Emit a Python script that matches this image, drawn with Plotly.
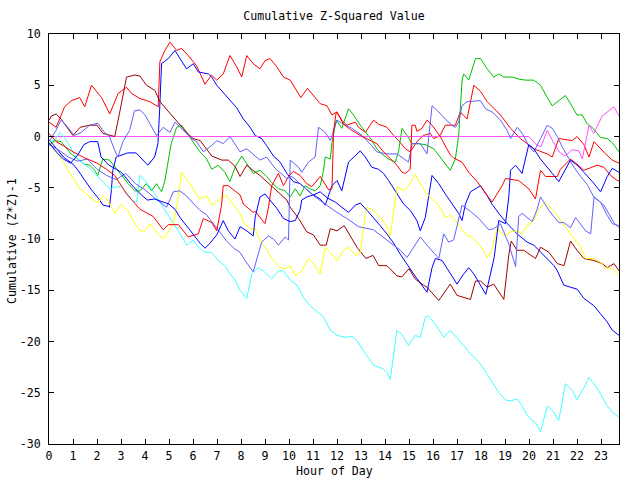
import plotly.graph_objects as go

# ---- data: (hour, cumulative value) vertices ----
RED_A = [(0,1.4),(0.3,0.9),(0.65,2.9),(0.93,3.5),(1.28,3.8),(1.49,2.9),(1.77,5.0),(2.19,3.8),(2.53,2.2),(2.88,4.2),
         (3.23,4.8),(3.44,4.2),(3.79,3.7),(4.2,3.4),(4.55,2.9),(4.62,7.3),(4.83,8.4),(5.04,9.2),(5.32,8.4),(5.52,8.6),
         (5.8,7.9),(6.15,6.9),(6.5,5.1),(6.77,6.0),(6.99,5.5),(7.26,6.1),(7.54,7.9),(7.82,6.8),(8.03,5.8),(8.24,7.9),
         (8.51,7.1),(8.79,6.6),(9.0,7.4),(9.21,7.6),(9.49,6.8),(9.77,5.8),(10.05,5.5),(10.25,4.7),(10.49,3.8),(10.77,4.7),
         (11.09,3.8),(11.3,3.2),(11.58,3.0),(11.79,2.1),(12.0,2.4),(12.2,1.6),(12.41,1.1),(12.55,1.2),(12.76,1.4),(12.9,0.9),
         (13.18,0.4),(13.38,1.1),(13.52,1.6),(13.73,1.2),(14.08,0.9),(14.36,0.1),(14.57,-0.4),(14.85,-1.2),(15.05,-1.5),
         (15.33,-0.5),(15.6,0.1),(15.89,0.3),(16.03,-0.2),(16.3,0.1),(16.51,1.1),(16.93,1.1),(17.14,2.4),(17.42,1.7),
         (17.7,5.0),(17.98,4.4),(18.26,3.4),(18.81,2.1),(19.23,0.8),(19.64,-0.2),(20.2,-1.2),(20.76,-1.7),(20.97,-2.0),
         (21.24,-0.2),(21.8,-0.4),(22.0,0.0),(22.29,-0.8),(22.5,-2.0),(22.71,-0.5),(23.19,-1.7),(23.47,-2.3),(23.75,-2.6)]

RED_C = [(0,0.3),(0.3,-0.5),(0.6,-0.9),(1.0,-1.5),(1.5,-2.1),(2.0,-2.6),(2.4,-3.2),(2.74,-3.8),(3.23,-5.6),(3.79,-7.1),
         (4.34,-7.8),(4.76,-9.1),(4.97,-8.6),(5.39,-8.6),(5.8,-9.8),(6.22,-9.5),(6.43,-8.0),(6.78,-8.4),(6.99,-9.2),
         (7.19,-6.7),(7.26,-4.8),(7.47,-4.8),(7.96,-5.7),(8.1,-6.6),(8.51,-7.4),(8.59,-7.3),(9.0,-8.5),(9.14,-7.0),
         (9.28,-4.8),(9.56,-3.6),(9.77,-4.8),(9.98,-3.9),(10.18,-3.4),(10.46,-3.8),(10.74,-4.6),(10.95,-4.9),(11.3,-3.9),
         (11.65,-5.2),(11.79,-5.1),(11.86,0.6),(11.97,2.4),(12.06,2.1),(12.27,1.2),(12.55,0.7),(12.97,0.1),(13.38,-0.4),
         (13.66,-0.7),(13.94,-1.5),(14.22,-2.2),(14.5,-2.8),(14.71,-3.5),(14.85,-3.6),(15.05,-3.2),(15.12,1.1),(15.26,1.1),
         (15.33,0.5),(15.54,0.8),(15.75,1.6),(15.96,1.1),(16.3,0.0),(16.72,-1.8),(16.86,-2.1),(17.21,-2.5),(17.49,-3.5),
         (17.84,-4.4),(18.26,-5.7),(18.46,-6.4),(18.88,-4.8),(19.02,-4.1),(19.57,-4.3),(19.99,-5.1),(20.27,-6.1),
         (20.48,-3.3),(20.69,-3.9),(21.18,-3.9),(21.31,-3.2),(21.73,-2.2),(22.0,-2.7),(22.29,-3.3),(22.84,-2.8),
         (23.12,-3.0),(23.4,-3.8),(23.68,-4.3),(23.75,-4.3)]

DARK_RED = [(0,1.6),(0.1,2.0),(0.3,2.2),(0.5,1.7),(1.0,0.1),(1.3,0.9),(1.7,1.1),(2.0,1.1),(2.25,0.3),(2.74,0.0),(2.95,2.4),
            (3.23,5.8),(3.58,6.0),(3.79,5.9),(4.06,5.0),(4.41,4.5),(4.62,3.4),(5.1,2.1),(5.73,0.4),(6.0,-0.2),(6.3,-0.4),
            (6.78,-1.9),(7.2,-2.3),(7.47,-2.3),(7.75,-2.9),(7.96,-3.9),(8.24,-2.8),(8.5,-3.3),(8.79,-3.8),(9.35,-5.0),
            (9.91,-6.2),(10.05,-6.9),(10.4,-8.0),(10.74,-9.3),(11.02,-9.6),(11.3,-10.6),(11.55,-10.6),(11.72,-9.0),
            (12.0,-9.2),(12.3,-8.7),(12.83,-10.8),(13.2,-11.9),(13.5,-11.6),(13.74,-12.6),(14.08,-12.6),(14.5,-13.6),
            (14.7,-13.7),(15.0,-12.9),(15.26,-13.9),(15.6,-14.5),(15.75,-14.7),(16.24,-16.0),(16.72,-14.4),(17.0,-15.5),
            (17.56,-15.9),(17.77,-14.1),(17.98,-14.1),(18.26,-14.7),(18.53,-14.4),(18.95,-15.9),(19.16,-11.5),
            (19.26,-10.2),(19.5,-11.1),(19.78,-11.1),(20.27,-11.9),(20.48,-10.8),(20.83,-11.3),(21.18,-12.4),
            (21.46,-12.6),(21.73,-10.2),(22.0,-11.1),(22.29,-11.9),(22.7,-12.1),(23.05,-12.4),(23.26,-12.8),
            (23.54,-12.4),(23.75,-13.1)]

GREEN = [(0,-0.8),(0.25,-0.4),(0.5,-0.5),(0.92,-1.7),(1.2,-2.2),(1.48,-2.7),(1.7,-2.8),(1.9,-3.3),(2.03,-3.8),(2.24,-2.2),
         (2.52,-2.3),(2.75,-3.0),(3.0,-3.8),(3.3,-4.6),(3.58,-5.3),(3.79,-5.3),(4.06,-4.6),(4.27,-5.3),(4.48,-4.6),
         (4.69,-5.4),(4.83,-4.3),(4.97,-2.2),(5.09,-0.7),(5.32,0.9),(5.53,1.1),(5.73,0.4),(6.01,-0.6),(6.29,-1.5),
         (6.57,-2.2),(6.78,-3.2),(7.05,-2.8),(7.33,-3.5),(7.54,-4.4),(7.75,-3.0),(8.03,-1.9),(8.3,-2.8),(8.51,-3.6),
         (8.79,-3.3),(9.07,-3.9),(9.28,-4.5),(9.56,-5.1),(9.84,-5.3),(10.05,-5.9),(10.26,-5.1),(10.46,-5.8),(10.67,-4.8),
         (10.88,-5.1),(11.09,-5.3),(11.3,-4.8),(11.44,-3.3),(11.51,-2.0),(11.72,-2.2),(11.79,-0.6),(11.97,1.6),(12.2,0.8),
         (12.48,2.7),(12.69,2.1),(12.97,1.1),(13.25,0.3),(13.46,-0.4),(13.66,-1.2),(13.87,-1.7),(14.15,-2.2),(14.43,-2.5),
         (14.57,-1.4),(14.71,0.8),(14.92,0.1),(15.13,-0.7),(15.4,-0.7),(15.7,-0.8),(16.03,-1.2),(16.3,-2.0),(16.51,-2.7),
         (16.72,-3.3),(16.93,-2.2),(17.07,0.1),(17.21,5.5),(17.28,6.1),(17.49,5.5),(17.77,7.6),(17.98,7.6),(18.26,6.6),
         (18.53,5.8),(18.74,6.1),(18.95,5.8),(19.3,5.8),(19.57,5.6),(19.85,5.5),(20.2,5.5),(20.48,5.0),(20.76,3.8),
         (20.97,3.0),(21.24,3.5),(21.52,4.0),(21.73,3.2),(22.0,2.1),(22.22,2.1),(22.43,1.2),(22.63,0.9),(22.98,-0.1),
         (23.26,-0.2),(23.47,-0.6),(23.75,-1.5)]

BLUE_1 = [(0,-0.3),(0.3,-1.2),(0.6,-2.0),(1.0,-2.7),(1.21,-3.3),(1.5,-4.3),(1.77,-5.2),(2.05,-6.0),(2.25,-6.7),(2.46,-6.8),
          (2.52,-6.9),(2.6,-5.2),(2.66,-3.3),(2.8,-2.0),(3.28,-1.6),(3.63,-1.6),(3.91,-2.3),(4.12,-2.8),(4.4,-2.0),
          (4.54,-0.7),(4.61,2.6),(4.69,7.1),(4.97,7.6),(5.25,8.4),(5.46,7.6),(5.73,6.6),(6.01,7.1),(6.22,6.3),(6.64,6.1),
          (6.78,5.8),(6.99,5.0),(7.26,4.3),(7.54,3.5),(7.82,2.8),(8.1,1.7),(8.38,0.9),(8.59,0.1),(8.86,-0.2),(9.07,-0.9),
          (9.35,-1.9),(9.63,-2.5),(9.91,-3.6),(10.18,-4.4),(10.46,-4.6),(10.95,-5.6),(11.3,-6.1),(11.51,-6.7),(11.65,-5.7),
          (11.79,-4.8),(12.0,-4.3),(12.2,-5.3),(12.48,-2.5),(12.76,-1.9),(12.97,-1.4),(13.18,-2.0),(13.45,-3.0),
          (13.73,-3.2),(13.94,-3.6),(14.15,-4.3),(14.43,-5.3),(14.78,-6.6),(15.05,-7.2),(15.33,-8.2),(15.47,-9.2),
          (15.68,-7.9),(15.96,-3.8),(16.24,-4.6),(16.51,-5.6),(16.79,-6.6),(17.07,-7.5),(17.21,-8.2),(17.35,-6.6),
          (17.56,-5.4),(17.98,-4.8),(18.26,-5.8),(18.46,-6.6),(18.74,-7.5),(19.02,-8.3),(19.5,-9.5),(19.92,-10.3),
          (20.2,-10.6),(20.48,-11.3),(20.69,-11.8),(21.04,-12.6),(21.18,-13.1),(21.45,-14.5),(21.73,-14.7),(22.01,-14.9),
          (22.29,-15.8),(22.7,-16.5),(22.98,-17.3),(23.26,-18.1),(23.47,-18.9),(23.75,-19.4)]

BLUE_3 = [(0,-0.6),(0.3,-1.5),(0.6,-2.2),(0.9,-2.6),(1.2,-1.8),(1.45,-0.8),(1.69,-0.5),(2.03,-0.5),(2.17,-2.0),(2.5,-2.8),
          (2.8,-3.2),(3.02,-3.5),(3.4,-4.6),(3.8,-5.6),(4.1,-6.2),(4.4,-6.1),(4.76,-6.4),(5.0,-6.6),(5.25,-7.1),(5.46,-7.9),
          (5.73,-8.7),(6.01,-9.6),(6.29,-10.4),(6.5,-10.9),(6.71,-10.4),(6.99,-9.6),(7.26,-8.2),(7.47,-9.2),(7.75,-10.0),
          (7.96,-8.8),(8.24,-9.2),(8.51,-9.7),(8.59,-7.9),(8.79,-5.9),(9.0,-5.6),(9.21,-6.2),(9.49,-7.0),(9.77,-8.0),
          (10.05,-8.3),(10.26,-8.2),(10.46,-7.2),(10.53,-6.2),(10.74,-5.9),(11.02,-5.7),(11.3,-5.4),(11.6,-6.0),
          (11.93,-6.4),(12.2,-6.9),(12.48,-7.4),(12.76,-6.7),(12.97,-6.5),(13.25,-7.2),(13.52,-7.9),(13.8,-8.7),
          (14.08,-9.5),(14.36,-10.4),(14.64,-11.5),(14.92,-12.5),(15.19,-13.4),(15.47,-14.3),(15.75,-15.2),(15.96,-12.8),
          (16.1,-11.9),(16.38,-12.1),(16.7,-13.3),(17.0,-14.4),(17.25,-13.5),(17.49,-12.8),(17.7,-13.4),(17.98,-14.5),
          (18.2,-15.4),(18.55,-11.8),(18.74,-8.2),(19.02,-8.5),(19.16,-5.9),(19.23,-3.3),(19.44,-2.8),(19.71,-3.6),
          (19.85,-2.3),(19.99,-0.8),(20.2,-1.2),(20.48,-2.2),(20.97,-3.6),(21.24,-4.4),(21.73,-2.3),(22.01,-2.8),
          (22.29,-3.5),(22.64,-4.4),(22.98,-5.4),(23.26,-3.9),(23.47,-3.1),(23.75,-3.5)]

CYAN = [(0,-0.6),(0.3,-0.2),(0.45,0.4),(0.58,0.1),(0.86,-0.9),(1.14,-2.1),(1.42,-2.6),(1.7,-3.1),(1.9,-3.6),(2.12,-4.1),
        (2.53,-5.1),(2.8,-4.9),(3.02,-4.9),(3.3,-5.7),(3.5,-6.3),(3.65,-6.4),(3.79,-3.8),(4.0,-4.3),(4.2,-4.9),(4.41,-5.6),
        (4.7,-6.7),(5.04,-7.9),(5.39,-9.2),(5.74,-10.6),(6.01,-10.1),(6.22,-10.8),(6.5,-11.3),(6.78,-11.3),(7.05,-12.1),
        (7.33,-12.6),(7.54,-13.4),(7.75,-14.0),(7.96,-15.0),(8.24,-15.8),(8.45,-13.4),(8.72,-12.8),(8.93,-13.1),
        (9.28,-13.9),(9.56,-13.1),(9.77,-13.1),(10.05,-14.0),(10.33,-14.5),(10.6,-15.7),(10.88,-16.5),(11.23,-17.2),
        (11.44,-17.6),(11.72,-18.9),(12.0,-19.4),(12.34,-19.6),(12.62,-19.5),(12.83,-19.9),(13.1,-20.9),(13.38,-21.8),
        (13.52,-22.3),(13.94,-22.7),(14.08,-23.0),(14.22,-23.7),(14.5,-18.9),(14.7,-19.3),(14.98,-20.4),(15.26,-19.4),
        (15.47,-19.6),(15.68,-17.6),(15.8,-17.5),(16.1,-18.3),(16.45,-19.6),(16.72,-18.9),(17.0,-19.6),(17.28,-20.4),
        (17.49,-21.0),(17.84,-21.9),(17.98,-22.2),(18.26,-23.2),(18.46,-24.0),(18.74,-25.0),(19.02,-25.7),(19.23,-25.8),
        (19.5,-25.6),(19.72,-26.3),(19.92,-27.2),(20.13,-27.7),(20.27,-27.9),(20.48,-28.8),(20.76,-26.3),(20.97,-26.7),
        (21.24,-27.7),(21.52,-24.1),(21.8,-24.8),(22.0,-25.7),(22.29,-24.5),(22.5,-23.5),(22.7,-24.1),(22.98,-25.1),
        (23.26,-26.3),(23.47,-26.9),(23.75,-27.4)]

YELLOW = [(0,-0.5),(0.3,-1.5),(0.5,-2.1),(0.8,-3.3),(1.0,-4.0),(1.28,-5.1),(1.56,-5.6),(1.91,-6.3),(2.05,-6.4),(2.25,-5.8),
          (2.46,-6.3),(2.74,-7.5),(3.02,-6.6),(3.3,-7.3),(3.58,-8.5),(3.79,-9.2),(4.0,-9.2),(4.2,-8.5),(4.48,-9.3),
          (4.76,-10.0),(4.97,-9.3),(5.18,-8.5),(5.32,-6.9),(5.53,-3.5),(5.8,-4.4),(6.01,-5.1),(6.29,-6.1),(6.57,-5.8),
          (6.78,-6.7),(6.99,-6.4),(7.19,-5.9),(7.4,-5.8),(7.68,-6.7),(7.96,-7.5),(8.1,-8.4),(8.38,-9.0),(8.59,-9.0),
          (8.79,-10.1),(9.07,-11.1),(9.35,-12.1),(9.63,-12.8),(9.84,-12.9),(10.05,-12.6),(10.26,-13.6),(10.53,-13.1),
          (10.81,-11.9),(11.02,-12.4),(11.3,-13.4),(11.51,-10.8),(11.72,-11.3),(12.0,-12.1),(12.27,-11.1),(12.48,-10.8),
          (12.76,-11.6),(12.97,-11.3),(13.18,-7.5),(13.25,-6.9),(13.52,-7.2),(13.8,-7.9),(14.01,-8.5),(14.22,-9.7),
          (14.36,-7.4),(14.5,-4.9),(14.78,-5.3),(15.05,-4.6),(15.26,-3.7),(15.47,-4.6),(15.75,-5.6),(16.03,-6.3),
          (16.3,-6.9),(16.51,-7.9),(16.72,-7.7),(16.93,-8.2),(17.21,-9.0),(17.42,-9.7),(17.63,-9.8),(17.84,-10.3),
          (18.05,-10.9),(18.26,-11.8),(18.46,-11.1),(18.67,-8.9),(18.95,-9.7),(19.23,-9.3),(19.5,-9.2),(19.72,-9.5),
          (19.92,-8.7),(20.2,-8.2),(20.41,-7.1),(20.69,-6.4),(20.9,-6.9),(21.11,-7.5),(21.38,-8.4),(21.66,-9.3),
          (21.87,-10.0),(22.15,-10.8),(22.36,-11.9),(22.7,-11.9),(22.98,-12.3),(23.19,-12.8),(23.47,-12.9),(23.75,-13.6)]

MAGENTA = [(0,0.0),(20.0,0.0),(20.3,-0.8),(20.5,-1.0),(20.76,0.6),(21.0,-0.5),(21.3,-1.6),(21.5,-1.9),(21.8,-1.3),
           (22.08,-1.4),(22.22,-2.2),(22.5,1.1),(22.7,0.3),(23.05,2.0),(23.54,2.9),(23.75,2.0)]

LIGHT_BLUE_A = [(0,-0.8),(0.4,-1.3),(0.8,-2.0),(1.2,-2.4),(1.6,-2.2),(2.0,-3.2),(2.4,-3.8),(2.8,-4.2),(3.2,-3.6),(3.6,-4.6),
                (4.0,-5.2),(4.4,-6.0),(4.9,-6.9),(5.18,-5.4),(5.45,-5.3),(5.73,-5.8),(6.0,-6.5),(6.29,-7.2),(6.55,-7.6),
                (6.85,-8.5),(7.1,-9.3),(7.4,-10.2),(7.7,-10.9),(7.96,-11.3),(8.17,-12.1),(8.51,-13.2),(8.86,-10.3),
                (9.14,-9.7),(9.35,-10.0),(9.56,-10.6),(9.84,-9.8),(9.98,-10.1),(10.05,-2.3),(10.4,-3.0),(10.53,-3.5),
                (10.81,-2.5),(11.09,-2.0),(11.23,0.9),(11.51,0.4),(11.72,-0.4),(12.0,1.6),(12.2,1.3),(12.62,0.8),
                (13.04,0.1),(13.45,-0.9),(13.66,-1.5),(14.08,-1.7),(14.5,-1.7),(14.98,-2.5),(15.13,-0.7),(15.47,-0.7),
                (15.75,-1.7),(15.96,3.0),(16.24,2.4),(16.51,1.7),(16.79,1.1),(16.93,0.9),(17.07,1.4),(17.21,3.0),
                (17.42,3.4),(17.98,3.5),(18.19,2.7),(18.46,2.4),(18.81,1.6),(19.09,0.6),(19.23,-0.2),(19.51,0.9),
                (19.72,0.3),(19.99,-0.9),(20.2,-1.5),(20.48,-0.2),(20.76,1.1),(20.97,0.8),(21.18,0.0),(21.38,-1.0),
                (21.66,-2.1),(21.87,-3.0),(22.15,-3.9),(22.43,-4.7),(22.7,-5.9),(22.98,-6.4),(23.26,-7.7),(23.47,-8.5),
                (23.75,-8.7)]

LIGHT_BLUE_B = [(0,-0.5),(0.29,0.6),(0.5,1.6),(0.71,1.1),(1.06,0.1),(1.34,0.4),(1.69,1.1),(2.03,1.3),(2.31,0.4),(2.52,0.0),
                (2.73,-1.3),(2.87,-2.0),(3.08,-0.5),(3.36,0.6),(3.56,2.5),(3.79,2.6),(4.0,2.1),(4.2,1.3),(4.48,0.1),
                (4.76,0.9),(5.04,0.4),(5.25,1.4),(5.6,0.6),(5.94,-0.2),(6.15,-0.5),(6.43,-1.5),(6.71,-1.0),(7.0,-0.4),
                (7.26,-0.7),(7.54,0.0),(7.96,-1.5),(8.24,-1.2),(8.79,-2.3),(9.07,-2.0),(9.42,-3.1),(9.91,-4.1),
                (10.12,-3.9),(10.6,-4.9),(11.09,-5.9),(11.51,-6.6),(11.93,-7.3),(12.41,-8.0),(12.9,-8.8),(13.52,-9.1),
                (14.08,-10.1),(14.64,-11.1),(14.92,-11.8),(15.47,-9.8),(15.75,-10.6),(16.24,-11.9),(16.45,-9.5),
                (16.65,-10.3),(16.86,-10.1),(17.07,-7.9),(17.21,-6.7),(17.56,-7.3),(17.91,-8.0),(18.32,-9.1),(18.53,-9.0),
                (18.81,-8.5),(19.16,-10.5),(19.44,-12.7),(19.57,-7.8),(19.72,-7.5),(20.13,-8.3),(20.34,-7.1),(20.48,-5.9),
                (20.83,-7.2),(21.24,-8.4),(21.45,-8.4),(21.73,-8.9),(21.94,-7.9),(22.36,-9.2),(22.57,-9.5),(22.71,-5.9),
                (23.12,-6.7),(23.54,-8.4),(23.75,-8.9)]

SERIES = [
    ("red A", RED_A, "#ff0000"),
    ("green", GREEN, "#00c000"),
    ("blue 1", BLUE_1, "#0000ff"),
    ("magenta", MAGENTA, "#ff50ff"),
    ("cyan", CYAN, "#40ffff"),
    ("dark red", DARK_RED, "#a00000"),
    ("yellow", YELLOW, "#ffff00"),
    ("light blue A", LIGHT_BLUE_A, "#6060ff"),
    ("red C", RED_C, "#ff0000"),
    ("blue 3", BLUE_3, "#0000ff"),
    ("light blue B", LIGHT_BLUE_B, "#6060ff"),
]

Y_TICKS = [-30, -25, -20, -15, -10, -5, 0, 5, 10]
Y_TICK_TEXT = ["-30", "-25", "-20", "-15", "-10", "-5", "0", "5", "10"]
X_TICKS = list(range(24))

FONT = "DejaVu Sans Mono"
FS = 11.6

fig = go.Figure()
for name, pts, color in SERIES:
    fig.add_trace(go.Scatter(
        x=[p[0] for p in pts], y=[p[1] for p in pts], mode="lines", name=name,
        line=dict(color=color, width=1), showlegend=False, hoverinfo="skip"))

fig.update_layout(
    width=640, height=480,
    margin=dict(l=49, r=21, t=34, b=36),
    paper_bgcolor="white", plot_bgcolor="white",
    font=dict(family=FONT, size=FS, color="black"),
    title=dict(text="Cumulative Z-Squared Value", x=0.5, xref="paper", xanchor="center",
               y=1 - 16 / 480, yref="container", yanchor="middle",
               font=dict(family=FONT, size=FS, color="black")),
    annotations=[
        dict(text="Hour of Day", x=0.5, y=-27 / 410, xref="paper", yref="paper",
             xanchor="center", yanchor="middle", showarrow=False,
             font=dict(family=FONT, size=FS, color="black")),
        dict(text="Cumulative (Z*Z)-1", x=(12 - 49) / 570, y=(444 - 241) / 410, xref="paper", yref="paper",
             xanchor="center", yanchor="middle", showarrow=False, textangle=-90,
             font=dict(family=FONT, size=FS, color="black")),
    ],
)
fig.update_xaxes(range=[0, 23.75], tickmode="array", tickvals=X_TICKS, ticktext=[str(t) for t in X_TICKS],
                 ticks="inside", ticklen=5, tickcolor="black", tickwidth=1,
                 showline=True, linecolor="black", linewidth=1, mirror="ticks",
                 showgrid=False, zeroline=False, ticklabelstandoff=1,
                 tickfont=dict(family=FONT, size=FS, color="black"))
fig.update_yaxes(range=[-30, 10], tickmode="array", tickvals=Y_TICKS, ticktext=Y_TICK_TEXT,
                 ticks="inside", ticklen=5, tickcolor="black", tickwidth=1,
                 showline=True, linecolor="black", linewidth=1, mirror="ticks",
                 showgrid=False, zeroline=False, ticklabelstandoff=5,
                 tickfont=dict(family=FONT, size=FS, color="black"))

fig.write_html("out.html")
